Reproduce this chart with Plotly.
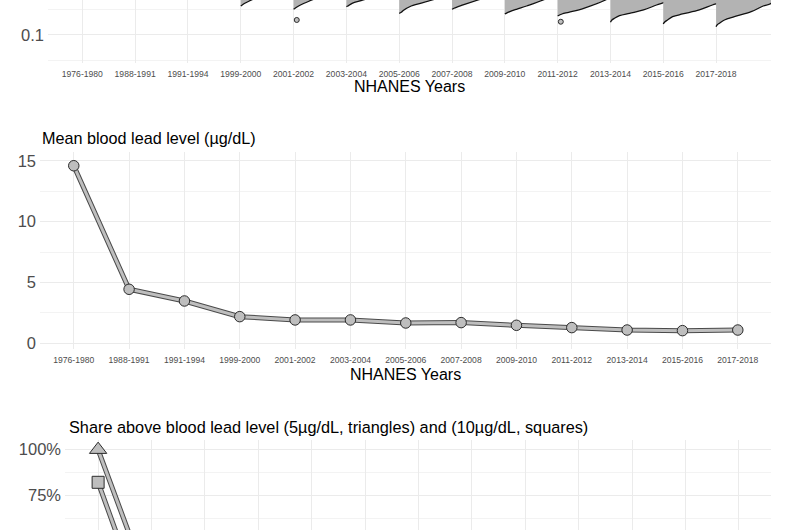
import math
import plotly.graph_objects as go

# ---------------- data ----------------
years = ["1976-1980", "1988-1991", "1991-1994", "1999-2000", "2001-2002",
         "2003-2004", "2005-2006", "2007-2008", "2009-2010", "2011-2012",
         "2013-2014", "2015-2016", "2017-2018"]

# Mean blood lead level (µg/dL)
mean_bll = [14.6, 4.44, 3.48, 2.19, 1.92, 1.92, 1.67, 1.70, 1.48, 1.29, 1.09, 1.04, 1.09]

# Share above 5 µg/dL (triangles) and 10 µg/dL (squares), percent
share_above_5 = [99.8, 22.0, 14.0, 6.5, 4.5, 4.0, 3.0, 3.0, 2.2, 1.6, 1.0, 0.9, 0.9]
share_above_10 = [82.2, 2.5, 1.5, 0.7, 0.5, 0.4, 0.3, 0.3, 0.2, 0.2, 0.1, 0.1, 0.1]

# Lower tail of the blood-lead distributions (half violins, log scale):
# blood lead values (µg/dL) and density half-widths (in category units)
tail_values = {
    "1999-2000": [0.370, 0.3875, 0.418, 0.486, 0.763],
    "2001-2002": [0.319, 0.335, 0.370, 0.419, 0.486, 0.763],
    "2003-2004": [0.359, 0.370, 0.418, 0.486, 0.763],
    "2005-2006": [0.2664, 0.2787, 0.3022, 0.3703, 0.486, 0.763],
    "2007-2008": [0.319, 0.334, 0.349, 0.3875, 0.486, 0.763],
    "2009-2010": [0.258, 0.2664, 0.2863, 0.3191, 0.3703, 0.486, 0.763],
    "2011-2012": [0.2358, 0.258, 0.2787, 0.3339, 0.486, 0.763],
    "2013-2014": [0.1774, 0.1968, 0.2126, 0.239, 0.2664, 0.3091, 0.3875, 0.4496, 0.486, 0.763],
    "2015-2016": [0.1643, 0.1798, 0.1968, 0.2284, 0.2581, 0.3091, 0.3875, 0.4496, 0.763],
    "2017-2018": [0.1455, 0.157, 0.1696, 0.1968, 0.2284, 0.2863, 0.3703, 0.4183, 0.763],
}
tail_widths = {
    "1999-2000": [0.0, 0.028, 0.076, 0.203, 0.59],
    "2001-2002": [0.0, 0.03, 0.095, 0.2, 0.347, 0.8],
    "2003-2004": [0.0, 0.03, 0.108, 0.32, 0.9],
    "2005-2006": [0.0, 0.04, 0.076, 0.228, 0.627, 1.14],
    "2007-2008": [0.0, 0.038, 0.082, 0.209, 0.494, 1.06],
    "2009-2010": [0.0, 0.025, 0.095, 0.222, 0.412, 0.727, 1.14],
    "2011-2012": [0.0, 0.082, 0.209, 0.494, 0.906, 1.2],
    "2013-2014": [0.0, 0.028, 0.076, 0.171, 0.361, 0.627, 0.873, 1.058, 1.10, 1.27],
    "2015-2016": [0.0, 0.028, 0.082, 0.177, 0.366, 0.684, 0.93, 1.114, 1.33],
    "2017-2018": [0.0, 0.019, 0.063, 0.158, 0.347, 0.665, 0.892, 1.044, 1.29],
}

# outlying points in the lower tail
outlier_years = ["2001-2002", "2011-2012"]
outlier_values = [0.197, 0.182]

# ---------------- styling ----------------
W, H = 800, 530
FONT = "Liberation Sans, Arial, Helvetica, sans-serif"
GRID = "#EBEBEB"
MINOR_GRID = "#F3F3F3"
TICK_COLOR = "#4D4D4D"
FILL_GRAY = "#B3B3B3"
POINT_GRAY = "#BEBEBE"
EDGE = "#2B2B2B"


def xdom(a, b):
    return [a / W, b / W]


def ydom(top, bottom):
    return [1 - bottom / H, 1 - top / H]


idx = list(range(len(years)))
pos = {y: i for i, y in enumerate(years)}

fig = go.Figure()

# ---- top panel: half violins (lower tails) ----
for yr in tail_values:
    i = pos[yr]
    vals = tail_values[yr]
    wid = tail_widths[yr]
    xs = [i + w for w in wid] + [i, i]
    ys = vals + [vals[-1], vals[0]]
    fig.add_trace(go.Scatter(x=xs, y=ys, mode="lines", fill="toself",
                             fillcolor=FILL_GRAY, line=dict(width=0),
                             hoverinfo="skip", showlegend=False,
                             xaxis="x", yaxis="y"))
    fig.add_trace(go.Scatter(x=[i + w for w in wid], y=vals, mode="lines",
                             line=dict(color="#111111", width=1.3, shape="spline"),
                             hoverinfo="skip", showlegend=False,
                             xaxis="x", yaxis="y"))

fig.add_trace(go.Scatter(x=[pos[y] + 0.06 for y in outlier_years], y=outlier_values,
                         mode="markers",
                         marker=dict(size=5, color=POINT_GRAY,
                                     line=dict(color=EDGE, width=1)),
                         showlegend=False, xaxis="x", yaxis="y"))

# ---- middle panel: mean blood lead ----
fig.add_trace(go.Scatter(x=idx, y=mean_bll, mode="lines",
                         line=dict(color="#4A4A4A", width=5),
                         showlegend=False, xaxis="x2", yaxis="y2"))
fig.add_trace(go.Scatter(x=idx, y=mean_bll, mode="lines",
                         line=dict(color=POINT_GRAY, width=3),
                         showlegend=False, xaxis="x2", yaxis="y2"))
fig.add_trace(go.Scatter(x=idx, y=mean_bll, mode="markers",
                         marker=dict(size=10.5, color=POINT_GRAY,
                                     line=dict(color=EDGE, width=1)),
                         showlegend=False, xaxis="x2", yaxis="y2"))

# ---- bottom panel: shares above thresholds ----
for series, sym, sz in ((share_above_5, "triangle-up", 15), (share_above_10, "square", 12)):
    fig.add_trace(go.Scatter(x=idx, y=series, mode="lines",
                             line=dict(color="#4A4A4A", width=5),
                             showlegend=False, xaxis="x3", yaxis="y3"))
    fig.add_trace(go.Scatter(x=idx, y=series, mode="lines",
                             line=dict(color=POINT_GRAY, width=3),
                             showlegend=False, xaxis="x3", yaxis="y3"))
    fig.add_trace(go.Scatter(x=idx, y=series, mode="markers",
                             marker=dict(symbol=sym, size=sz, color=POINT_GRAY,
                                         line=dict(color=EDGE, width=1)),
                             showlegend=False, xaxis="x3", yaxis="y3"))

xcommon = dict(tickmode="array", tickvals=idx, ticktext=years, showgrid=True,
               gridcolor=GRID, gridwidth=1, zeroline=False, showline=False,
               ticks="", automargin=False, ticklabelstandoff=4,
               tickfont=dict(family=FONT, size=8.6, color=TICK_COLOR))
ycommon = dict(showgrid=True, gridcolor=GRID, gridwidth=1, zeroline=False,
               showline=False, ticks="", automargin=False, ticklabelstandoff=3,
               tickfont=dict(family=FONT, size=16.5, color=TICK_COLOR))

fig.update_layout(
    width=W, height=H,
    margin=dict(l=0, r=0, t=0, b=0),
    paper_bgcolor="white", plot_bgcolor="white",
    font=dict(family=FONT),
    xaxis=dict(xcommon, domain=xdom(48, 771), range=[-0.65, 13.04], anchor="y"),
    yaxis=dict(ycommon, domain=ydom(0, 63), type="log", range=[-1.549, -0.314],
               tickmode="array", tickvals=[0.1, 1], ticktext=["0.1", "1"],
               minor=dict(tickmode="array", tickvals=[0.0316, 0.316], showgrid=True,
                          gridcolor=MINOR_GRID, gridwidth=0.6, ticks=""),
               anchor="x"),
    xaxis2=dict(xcommon, domain=xdom(40, 771), range=[-0.61, 12.6], anchor="y2"),
    yaxis2=dict(ycommon, domain=ydom(152, 349), range=[-0.47, 15.73],
                tickmode="array", tickvals=[0, 5, 10, 15],
                minor=dict(tickmode="array", tickvals=[2.5, 7.5, 12.5], showgrid=True,
                           gridcolor=MINOR_GRID, gridwidth=0.6, ticks=""),
                anchor="x2"),
    xaxis3=dict(xcommon, domain=xdom(65, 771), range=[-0.62, 12.6], anchor="y3",
                showticklabels=False),
    yaxis3=dict(ycommon, domain=ydom(440, 530), range=[56.5, 105],
                tickmode="array", tickvals=[50, 75, 100], ticktext=["50%", "75%", "100%"],
                minor=dict(tickmode="array", tickvals=[62.5, 87.5], showgrid=True,
                           gridcolor=MINOR_GRID, gridwidth=0.6, ticks=""),
                anchor="x3"),
)

annos = [
    dict(text="NHANES Years", x=409.5 / W, y=1 - 87 / H, xanchor="center", yanchor="middle",
         font=dict(size=16, color="black")),
    dict(text="Mean blood lead level (µg/dL)", x=40 / W, y=1 - 138 / H,
         xanchor="left", yanchor="middle", font=dict(size=16.2, color="black")),
    dict(text="NHANES Years", x=405.5 / W, y=1 - 374.5 / H, xanchor="center", yanchor="middle",
         font=dict(size=16, color="black")),
    dict(text="Share above blood lead level (5µg/dL, triangles) and (10µg/dL, squares)",
         x=67 / W, y=1 - 427 / H, xanchor="left", yanchor="middle",
         font=dict(size=16.3, color="black")),
]
for a in annos:
    a.update(xref="paper", yref="paper", showarrow=False)
    a["font"]["family"] = FONT
    fig.add_annotation(**a)

fig.write_html("out.html", config={"displayModeBar": False},
               post_script="document.body.style.margin='0';document.body.style.overflow='hidden';")
